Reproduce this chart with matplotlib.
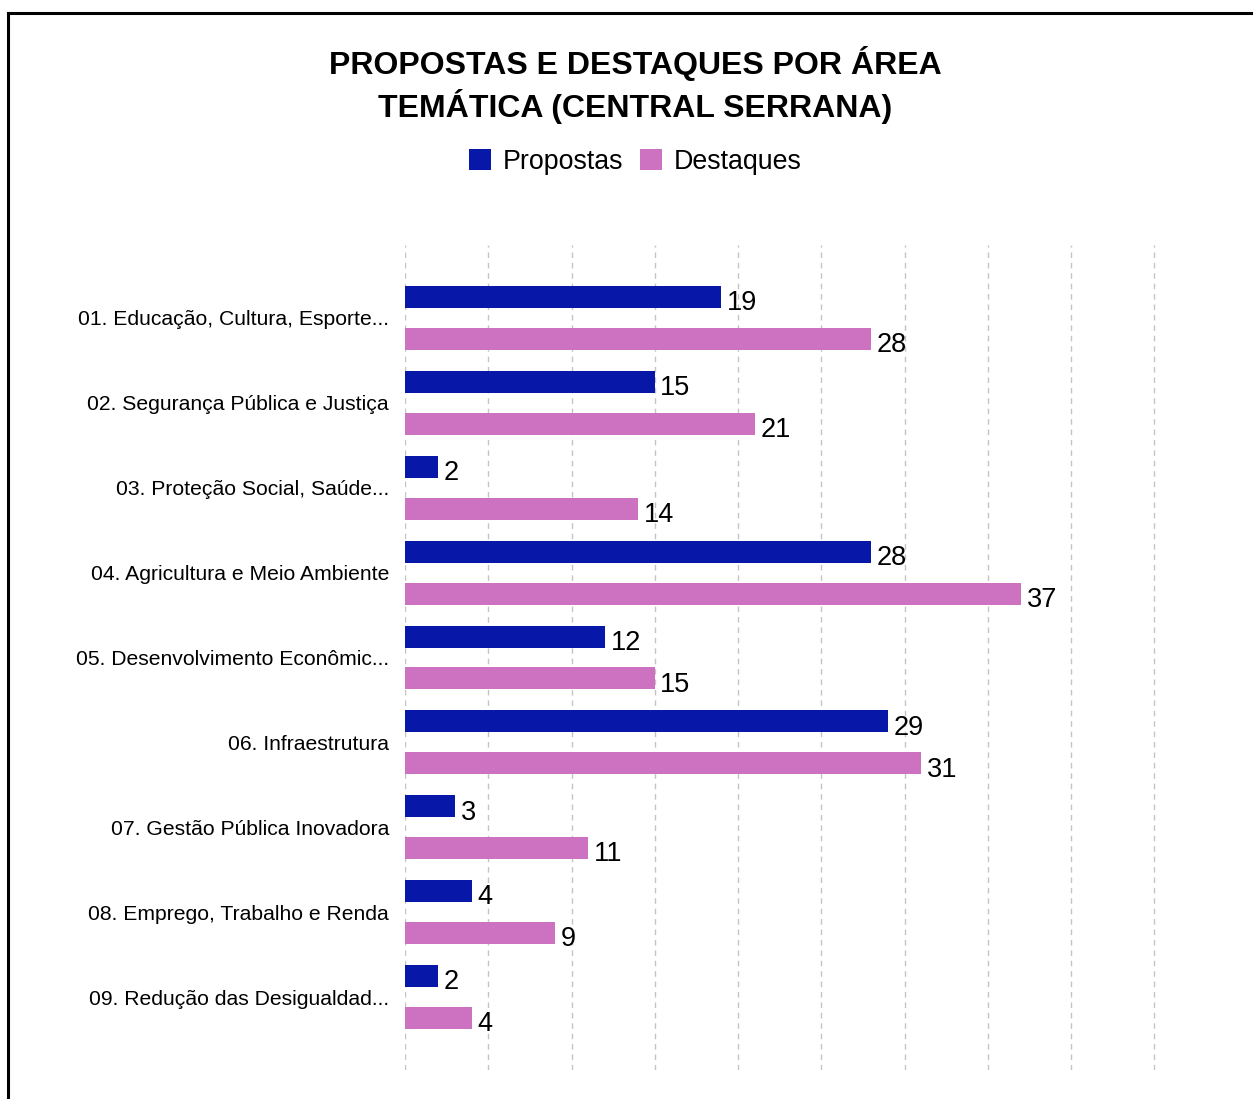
import matplotlib.pyplot as plt
from matplotlib.lines import Line2D
import numpy as np

plt.rcParams["font.family"] = ["Liberation Sans", "DejaVu Sans"]

categories = [
    "01. Educação, Cultura, Esporte...",
    "02. Segurança Pública e Justiça",
    "03. Proteção Social, Saúde...",
    "04. Agricultura e Meio Ambiente",
    "05. Desenvolvimento Econômic...",
    "06. Infraestrutura",
    "07. Gestão Pública Inovadora",
    "08. Emprego, Trabalho e Renda",
    "09. Redução das Desigualdad...",
]
propostas = [19, 15, 2, 28, 12, 29, 3, 4, 2]
destaques = [28, 21, 14, 37, 15, 31, 11, 9, 4]

BLUE = "#0718A8"
PINK = "#CC72C0"

fig = plt.figure(figsize=(12.53, 10.99), dpi=100)
ax = fig.add_axes([405 / 1253, 1 - 1070 / 1099, (1156 - 405) / 1253, (1070 - 245) / 1099])

y = np.arange(len(categories))
h = 0.26
off = 0.247
bars_p = ax.barh(y - off, propostas, height=h, color=BLUE, label="Propostas")
bars_d = ax.barh(y + off, destaques, height=h, color=PINK, label="Destaques")

for bars, vals in ((bars_p, propostas), (bars_d, destaques)):
    for b, v in zip(bars, vals):
        ax.annotate(str(v), (b.get_width(), b.get_y() + b.get_height() / 2),
                    xytext=(4, -4.5), textcoords="offset points",
                    ha="left", va="center", fontsize=19.5)

ax.set_xlim(0, 45.1)
ax.set_ylim(len(categories) - 1 + 0.86, -0.86)
ax.set_xticks(np.arange(0, 46, 5))
ax.set_yticks(y)
ax.set_yticklabels(categories, fontsize=15.2)
ax.tick_params(axis="y", length=0, pad=11.5)
ax.tick_params(axis="x", length=0, labelbottom=False)
ax.grid(axis="x", color="#c4c4c4", linestyle=(0, (4, 3.5)), linewidth=1)
ax.set_axisbelow(True)
for s in ax.spines.values():
    s.set_visible(False)

fig.text(0.507, 1 - 85 / 1099, "PROPOSTAS E DESTAQUES POR ÁREA\nTEMÁTICA (CENTRAL SERRANA)",
         ha="center", va="center", fontsize=23, fontweight="bold", linespacing=1.32)

fig.legend(handles=[bars_p, bars_d], loc="center", bbox_to_anchor=(0.507, 1 - 162 / 1099),
           ncol=2, frameon=False, fontsize=19.3, handlelength=0.82, handleheight=0.82,
           handletextpad=0.45, columnspacing=0.6)

# frame around the chart (left and top edges visible)
fig.add_artist(Line2D([8 / 1253, 8 / 1253], [0, 1 - 13 / 1099], color="black", linewidth=2.2))
fig.add_artist(Line2D([8 / 1253, 1], [1 - 13 / 1099, 1 - 13 / 1099], color="black", linewidth=2.2))

fig.savefig("out.png", dpi=100)
